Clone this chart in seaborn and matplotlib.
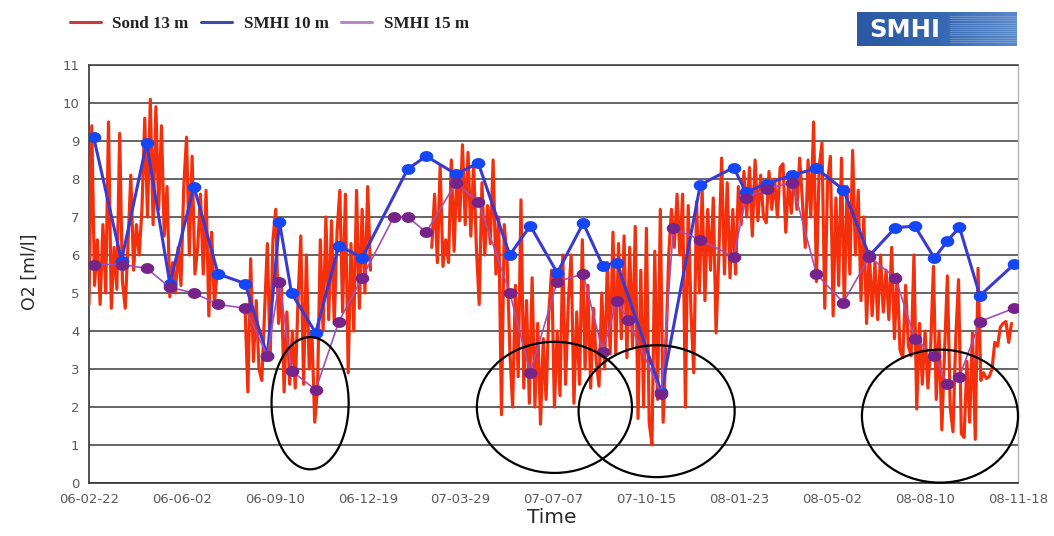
import numpy as np
import pandas as pd
import matplotlib
matplotlib.use("Agg")
import matplotlib.pyplot as plt
import matplotlib.dates as mdates
from matplotlib.patches import Ellipse
from matplotlib.lines import Line2D
from matplotlib.colors import LinearSegmentedColormap
from matplotlib.font_manager import FontProperties
import seaborn as sns

nan = np.nan

# Sond at 13 m: one reading every third day from the start date (nan = no data)
sond_start = "2006-02-22"
sond_step_days = 3
sond_13m = [
    4.7, 9.4, 5.2, 6.4, 4.7, 6.8, 5.0, 9.5, 4.6, 6.2, 5.1, 9.2, 5.3, 4.6,
    6.3, 8.1, 5.6, 6.8, 6.0, 7.2,
    9.6, 7.0, 10.1, 6.8, 9.9, 7.2, 9.4, 6.5,
    7.8, 4.9, 5.8, 5.0, 6.2, 5.2,
    7.8, 9.1, 6.0, 8.6, 5.5,
    6.2, 7.6, 5.5, 7.7, 4.4, 6.6, 4.7, 5.6,
    nan, nan, nan, nan, nan, nan, nan, nan, nan,
    4.6, 2.4, 5.9, 3.2, 4.8, 3.0, 2.7, 4.5, 6.3, 3.3,
    6.4, 7.2, 4.2, 5.3, 2.4, 4.5, 2.6, 4.0, 2.5, 4.8, 6.5, 2.6, 6.0, 3.0, 3.9,
    1.6, 2.5, 6.4, 4.0, 7.0, 4.3, 6.9, 4.2, 6.6, 7.7, 4.5, 7.6, 2.9, 6.3, 4.0,
    7.7, 4.6, 7.2, 5.0, 7.8, 5.6,
    nan, nan, nan, nan, nan, nan, nan, nan, nan, nan, nan,
    nan, nan, nan, nan, nan, nan, nan, nan, nan, nan,
    6.2, 7.6, 5.8, 8.35, 5.7, 6.4, 5.8, 8.5, 6.1,
    8.2, 6.9, 8.9, 6.8, 8.7, 6.5, 8.4, 6.2, 4.7, 7.9, 6.0, 7.3, 6.3, 8.5, 5.5, 7.0, 1.8, 6.8,
    5.9, 3.5, 2.0, 5.2, 2.8, 7.45,
    2.5, 4.8, 2.1, 5.4, 2.0, 4.2, 1.55,
    3.8, 2.2, 4.5, 5.6, 2.0,
    4.0, 2.3, 6.0, 2.6, 4.8,
    6.0, 2.1, 4.5, 2.6, 6.4, 3.0, 5.2, 2.5, 4.6,
    3.2, 2.55, 5.0, 3.0, 5.8, 3.4,
    6.6, 3.4, 6.3, 3.8, 6.5, 3.3, 6.2, 3.6, 6.75,
    1.7, 5.6, 2.0, 6.7, 1.6, 1.0, 6.1, 2.2, 7.2,
    1.6, 3.5, 6.0, 7.2, 6.2, 7.6, 6.0, 7.6,
    2.0, 7.3, 4.5, 2.9, 7.4,
    5.0, 7.7, 4.8, 7.2, 5.6, 7.5, 3.95,
    6.0, 8.55, 5.5, 7.9, 5.4, 7.2, 5.5, 7.8,
    6.8, 8.2, 7.0, 8.3, 6.5, 8.5, 6.9, 8.1, 7.0,
    6.85, 8.2, 7.2, 8.0, 7.0, 8.3, 8.4, 6.6, 7.9, 7.1, 8.2, 7.2, 8.55, 7.4,
    6.2, 8.5, 7.0, 9.5, 5.3, 8.3, 8.95, 4.6, 7.9, 8.6,
    4.4, 7.5, 5.2, 8.55, 4.65, 7.8, 5.5, 8.75, 6.0, 7.7,
    4.8, 7.0, 4.2, 6.1, 4.4, 5.8, 4.3, 6.0, 4.5, 5.6, 4.3,
    6.2, 3.8, 5.5, 3.5, 3.3, 5.2, 3.6, 3.35, 6.0,
    1.95, 4.2, 2.6, 4.0, 2.5, 3.6, 5.7,
    2.2, 4.0, 1.4, 3.5, 5.45, 2.0, 1.35, 3.8,
    5.35, 1.3, 1.2, 3.2, 1.6, 3.95, 1.15,
    5.65, 2.7, 2.9, 2.75, 2.8, 3.0, 3.7, 3.6, 4.1, 4.2, 4.25, 3.7, 4.2,
]

# SMHI station samples, 10 m
smhi10_dates = [
    "2006-02-27", "2006-03-29", "2006-04-25", "2006-05-20", "2006-06-15",
    "2006-07-11", "2006-08-09", "2006-09-02", "2006-09-15", "2006-09-28",
    "2006-10-24", "2006-11-18", "2006-12-13", "2007-01-31", "2007-02-20",
    "2007-03-24", "2007-04-17", "2007-05-21", "2007-06-12", "2007-07-11",
    "2007-08-08", "2007-08-29", "2007-09-13", "2007-10-31", "2007-12-12",
    "2008-01-17", "2008-01-30", "2008-02-22", "2008-03-20", "2008-04-15",
    "2008-05-14", "2008-06-11", "2008-07-09", "2008-07-30", "2008-08-20",
    "2008-09-03", "2008-09-16", "2008-10-08", "2008-11-14",
]
smhi10_o2 = [
    9.1, 5.85, 8.95, 5.25, 7.8,
    5.5, 5.25, 3.35, 6.87, 5.0,
    3.95, 6.25, 5.93, 8.26, 8.6,
    8.13, 8.42, 6.0, 6.77, 5.53,
    6.84, 5.72, 5.8, 2.4, 7.85,
    8.3, 7.66, 7.88, 8.1, 8.28,
    7.72, 5.98, 6.72, 6.76, 5.92,
    6.37, 6.73, 4.93, 5.76,
]

# SMHI station samples, 15 m
smhi15_dates = [
    "2006-02-27", "2006-03-29", "2006-04-25", "2006-05-20", "2006-06-15",
    "2006-07-11", "2006-08-09", "2006-09-02", "2006-09-15", "2006-09-28",
    "2006-10-24", "2006-11-18", "2006-12-13", "2007-01-16", "2007-01-31",
    "2007-02-20", "2007-03-24", "2007-04-17", "2007-05-21", "2007-06-12",
    "2007-07-11", "2007-08-08", "2007-08-29", "2007-09-13", "2007-09-25",
    "2007-10-31", "2007-11-13", "2007-12-12", "2008-01-17", "2008-01-30",
    "2008-02-22", "2008-03-20", "2008-04-15", "2008-05-14", "2008-06-11",
    "2008-07-09", "2008-07-30", "2008-08-20", "2008-09-03", "2008-09-16",
    "2008-10-08", "2008-11-14",
]
smhi15_o2 = [
    5.75, 5.75, 5.65, 5.15, 5.0,
    4.7, 4.6, 3.35, 5.3, 2.95,
    2.45, 4.25, 5.4, 7.0, 7.0,
    6.6, 7.9, 7.4, 5.0, 2.9,
    5.3, 5.5, 3.45, 4.8, 4.3,
    2.35, 6.7, 6.4, 5.95, 7.5,
    7.75, 7.9, 5.5, 4.75, 5.95,
    5.4, 3.8, 3.35, 2.6, 2.8,
    4.25, 4.6,
]

tick_dates = [
    "2006-02-22", "2006-06-02", "2006-09-10", "2006-12-19", "2007-03-29",
    "2007-07-07", "2007-10-15", "2008-01-23", "2008-05-02", "2008-08-10",
    "2008-11-18",
]
series_labels = ["Sond 13 m", "SMHI 10 m", "SMHI 15 m"]

# Periods of low oxygen picked out with rings: centre date, centre value, width (days), height
low_o2_rings = [
    ("2006-10-18", 2.10, 83, 3.48),
    ("2007-07-08", 1.99, 167, 3.45),
    ("2007-10-26", 1.89, 168, 3.47),
    ("2008-08-26", 1.76, 168, 3.50),
]

RED = "#f4300c"
BLUE_LINE = "#3a3ad2"
BLUE_DOT = "#1446f5"
PURPLE_LINE = "#a050b8"
PURPLE_DOT = "#76248a"

sns.set_style("white")
plt.rcParams["font.family"] = ["DejaVu Sans"]

W, H = 1054, 536
fig = plt.figure(figsize=(W / 100, H / 100), dpi=100)
ax = fig.add_axes([89 / W, 53 / H, 929 / W, 418 / H])

# probe series, split into continuous stretches
sond = pd.DataFrame({
    "date": pd.date_range(sond_start, periods=len(sond_13m), freq=f"{sond_step_days}D"),
    "o2": sond_13m,
})
sond["segment"] = sond["o2"].isna().cumsum()
sond = sond.dropna()

s10 = pd.DataFrame({"date": pd.to_datetime(smhi10_dates), "o2": smhi10_o2})
s15 = pd.DataFrame({"date": pd.to_datetime(smhi15_dates), "o2": smhi15_o2})

t = np.linspace(0, 2 * np.pi, 41)
oval = [(np.cos(a), 0.8 * np.sin(a)) for a in t]

sns.lineplot(data=sond, x="date", y="o2", units="segment", estimator=None,
             color=RED, linewidth=2.3, ax=ax, legend=False, zorder=3)
sns.lineplot(data=s10, x="date", y="o2", color=BLUE_LINE, linewidth=2.2,
             marker=oval, markersize=9.8, markerfacecolor=BLUE_DOT,
             markeredgewidth=0, ax=ax, legend=False, zorder=4)
sns.lineplot(data=s15, x="date", y="o2", color=PURPLE_LINE, linewidth=1.2,
             marker=oval, markersize=9.8, markerfacecolor=PURPLE_DOT,
             markeredgewidth=0, ax=ax, legend=False, zorder=5)

for c_date, c_val, w_days, h_val in low_o2_rings:
    ax.add_patch(Ellipse((mdates.date2num(pd.Timestamp(c_date)), c_val),
                         w_days, h_val, fill=False, edgecolor="black",
                         linewidth=1.6, zorder=6, clip_on=False))

# axes, grid and ticks
ax.set_xlim(pd.Timestamp(tick_dates[0]), pd.Timestamp(tick_dates[-1]))
ax.set_ylim(0, 11)
ax.set_yticks(range(0, 12))
ax.set_xticks(pd.to_datetime(tick_dates))
ax.xaxis.set_major_formatter(mdates.DateFormatter("%y-%m-%d"))
ax.yaxis.grid(True, color="#3c3c3c", linewidth=1.1)
ax.xaxis.grid(False)
ax.set_axisbelow(True)
ax.tick_params(axis="both", direction="out", length=4, width=1, color="#444444",
               labelcolor="#5a5a5a", labelsize=9.5, pad=3)
for side in ["left", "bottom"]:
    ax.spines[side].set_color("#333333")
    ax.spines[side].set_linewidth(1.2)
ax.spines["top"].set_color("#3c3c3c")
ax.spines["top"].set_linewidth(1.1)
ax.spines["right"].set_color("#b5b5b5")
ax.spines["right"].set_linewidth(1.0)

ax.set_xlabel("Time", fontsize=14.5, color="#2a2a2a")
ax.set_ylabel("O2 [ml/l]", fontsize=12.5, color="#2a2a2a")
ax.xaxis.set_label_coords((552 - 89) / 929, (483 - 508) / 418)
ax.yaxis.set_label_coords((39 - 89) / 929, 0.505)

# legend across the top
handles = [
    Line2D([], [], color="#c83a40", linewidth=2.2),
    Line2D([], [], color="#3c4ca2", linewidth=2.2),
    Line2D([], [], color="#b58ac6", linewidth=2.2),
]
fig.legend(handles, series_labels, loc="center left",
           bbox_to_anchor=(70 / W, 1 - 24 / H), ncol=3, frameon=False,
           prop=FontProperties(family="Liberation Serif", weight="bold", size=12.2),
           handlelength=1.8, handletextpad=0.7, columnspacing=0.75,
           borderpad=0, borderaxespad=0, labelcolor="#222222")

# SMHI badge, top right
logo = fig.add_axes([857 / W, 1 - 46 / H, 160 / W, 34 / H])
logo_cmap = LinearSegmentedColormap.from_list("badge", ["#2b58a3", "#3566b0", "#5b8acb"])
logo.imshow(np.linspace(0, 1, 256)[None, :], aspect="auto", cmap=logo_cmap,
            extent=[0, 1, 0, 1])
for yy in np.linspace(0.12, 0.88, 13):
    logo.plot([0.58, 1.0], [yy, yy], color="#a9c3ea", linewidth=0.5, alpha=0.55)
logo.text(0.3, 0.48, "SMHI", color="white", fontsize=17.5, fontweight="bold",
          ha="center", va="center")
logo.set_xlim(0, 1)
logo.set_ylim(0, 1)
logo.axis("off")

fig.savefig("out.png", dpi=100)
